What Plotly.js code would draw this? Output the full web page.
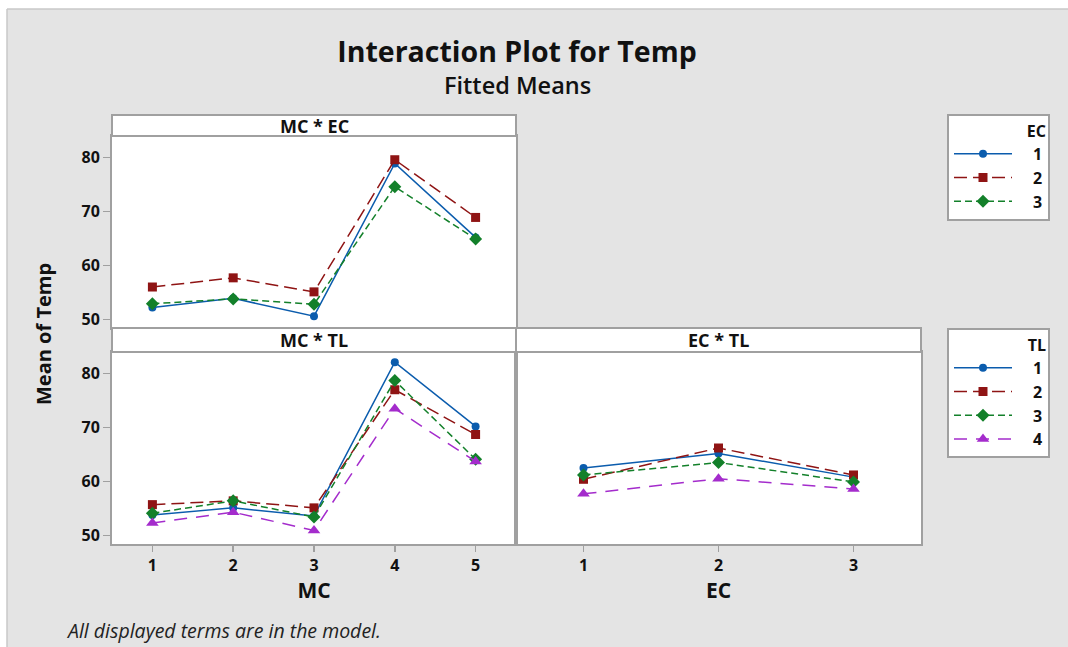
<!DOCTYPE html>
<html>
<head>
<meta charset="utf-8">
<script src="https://cdn.plot.ly/plotly-3.0.1.min.js"></script>
<style>html,body{margin:0;padding:0;background:#fff;}#chart{width:1068px;height:647px;}</style>
</head>
<body>
<div id="chart"></div>
<script>
// ---- data ----
const mcLevels = [1, 2, 3, 4, 5];
const ecLevels = [1, 2, 3];
const ecNames = ['1', '2', '3'];
const tlNames = ['1', '2', '3', '4'];

// MC * EC fitted means (rows: EC 1..3, columns: MC 1..5)
const mcEc_EC1 = [52.2, 53.9, 50.6, 78.9, 65.2];
const mcEc_EC2 = [56.0, 57.7, 55.1, 79.6, 68.9];
const mcEc_EC3 = [52.9, 53.8, 52.8, 74.6, 64.9];

// MC * TL fitted means (rows: TL 1..4, columns: MC 1..5)
const mcTl_TL1 = [53.8, 55.1, 53.6, 82.1, 70.2];
const mcTl_TL2 = [55.7, 56.4, 55.1, 77.0, 68.7];
const mcTl_TL3 = [54.1, 56.4, 53.4, 78.7, 64.1];
const mcTl_TL4 = [52.3, 54.3, 50.9, 73.5, 63.7];

// EC * TL fitted means (rows: TL 1..4, columns: EC 1..3)
const ecTl_TL1 = [62.5, 65.2, 60.8];
const ecTl_TL2 = [60.4, 66.2, 61.2];
const ecTl_TL3 = [61.2, 63.5, 59.9];
const ecTl_TL4 = [57.7, 60.5, 58.6];

const yTicks = [50, 60, 70, 80];

// ---- styles ----
const W = 1068, H = 647;
const fx = p => p / W;
const fy = p => 1 - p / H;
const FONT = 'Open Sans, Noto Sans, sans-serif';
const GRID = '#a0a0a0';
const PAD = '\u2003';
const styles = [
  {color: '#0b5cad', dash: 'solid', symbol: 'circle', size: 8},
  {color: '#8f1414', dash: '13px,6px', symbol: 'square', size: 9},
  {color: '#13802a', dash: '7px,4px', symbol: 'diamond', size: 10},
  {color: '#a42ccc', dash: '13px,9px', symbol: 'triangle-up', size: 11}
];

function tr(x, y, name, i, xa, ya, legend, showlegend) {
  const s = styles[i];
  return {
    type: 'scatter', mode: 'lines+markers', x: x, y: y, name: PAD + name,
    xaxis: xa, yaxis: ya, legend: legend, showlegend: showlegend,
    legendgroup: legend + name,
    line: {color: s.color, width: 1.5, dash: s.dash},
    marker: {color: s.color, symbol: s.symbol, size: s.size}
  };
}

const mcEc = [mcEc_EC1, mcEc_EC2, mcEc_EC3];
const mcTl = [mcTl_TL1, mcTl_TL2, mcTl_TL3, mcTl_TL4];
const ecTl = [ecTl_TL1, ecTl_TL2, ecTl_TL3, ecTl_TL4];

const data = [];
mcEc.forEach((v, i) => data.push(tr(mcLevels, v, ecNames[i], i, 'x', 'y', 'legend', true)));
mcTl.forEach((v, i) => data.push(tr(mcLevels, v, tlNames[i], i, 'x2', 'y2', 'legend2', true)));
ecTl.forEach((v, i) => data.push(tr(ecLevels, v, tlNames[i], i, 'x3', 'y3', 'legend2', false)));

const tickFont = {family: FONT, size: 16, color: '#111', weight: 'bold'};
const baseAxis = {
  showline: true, mirror: true, linecolor: GRID, linewidth: 2,
  showgrid: false, zeroline: false, fixedrange: true
};
const yRange = [48.4, 84.0];

function legendCfg(title, top) {
  return {
    x: fx(947), y: fy(top), xanchor: 'left', yanchor: 'top',
    bgcolor: '#ffffff', bordercolor: GRID, borderwidth: 2,
    font: {family: FONT, size: 16, color: '#111', weight: 'bold'},
    title: {text: title, side: 'top right', font: {family: FONT, size: 16, color: '#111', weight: 'bold'}},
    itemwidth: 58, tracegroupgap: 0, traceorder: 'grouped', itemclick: false, itemdoubleclick: false
  };
}

const layout = {
  width: W, height: H,
  margin: {l: 0, r: 0, t: 0, b: 0},
  paper_bgcolor: '#e4e4e4',
  plot_bgcolor: '#ffffff',
  font: {family: FONT, color: '#111'},
  title: {
    text: 'Interaction Plot for Temp',
    x: fx(517), xanchor: 'center', xref: 'paper',
    y: fy(52), yanchor: 'middle', yref: 'paper',
    font: {family: FONT, size: 28.5, color: '#111', weight: 'bold'}
  },
  xaxis: Object.assign({}, baseAxis, {domain: [fx(112), fx(516)], anchor: 'y', range: [0.5, 5.5],
    tickvals: mcLevels, showticklabels: false, ticks: ''}),
  yaxis: Object.assign({}, baseAxis, {domain: [fy(328), fy(136)], anchor: 'x', range: yRange,
    tickvals: yTicks, ticks: 'outside', ticklen: 7, tickcolor: GRID, tickwidth: 1.5, tickfont: tickFont}),
  xaxis2: Object.assign({}, baseAxis, {domain: [fx(112), fx(516)], anchor: 'y2', range: [0.5, 5.5],
    tickvals: mcLevels, ticks: 'outside', ticklen: 6, tickcolor: GRID, tickwidth: 1.5, tickfont: tickFont,
    title: {text: 'MC', font: {family: FONT, size: 21, color: '#111', weight: 'bold'}, standoff: 6}}),
  yaxis2: Object.assign({}, baseAxis, {domain: [fy(544), fy(352)], anchor: 'x2', range: yRange,
    tickvals: yTicks, ticks: 'outside', ticklen: 7, tickcolor: GRID, tickwidth: 1.5, tickfont: tickFont}),
  xaxis3: Object.assign({}, baseAxis, {domain: [fx(516), fx(921)], anchor: 'y3', range: [0.5, 3.5],
    tickvals: ecLevels, ticks: 'outside', ticklen: 6, tickcolor: GRID, tickwidth: 1.5, tickfont: tickFont,
    title: {text: 'EC', font: {family: FONT, size: 21, color: '#111', weight: 'bold'}, standoff: 6}}),
  yaxis3: Object.assign({}, baseAxis, {domain: [fy(544), fy(352)], anchor: 'x3', range: yRange,
    tickvals: yTicks, showticklabels: false, ticks: ''}),
  legend: legendCfg('EC', 114),
  legend2: legendCfg('TL', 328),
  shapes: [
    // white outer border at top and left
    {type: 'rect', xref: 'paper', yref: 'paper', x0: 0, x1: 1, y0: fy(9), y1: 1, fillcolor: '#ffffff', line: {width: 0}},
    {type: 'rect', xref: 'paper', yref: 'paper', x0: 0, x1: fx(7), y0: 0, y1: 1, fillcolor: '#ffffff', line: {width: 0}},
    {type: 'line', xref: 'paper', yref: 'paper', x0: fx(7), x1: 1, y0: fy(9), y1: fy(9), line: {color: '#c8c8c8', width: 1.5}},
    {type: 'line', xref: 'paper', yref: 'paper', x0: fx(7), x1: fx(7), y0: 0, y1: fy(9), line: {color: '#c8c8c8', width: 1.5}},
    // panel strips
    {type: 'rect', xref: 'paper', yref: 'paper', x0: fx(112), x1: fx(516), y0: fy(136), y1: fy(115), fillcolor: '#ffffff', line: {color: GRID, width: 2}},
    {type: 'rect', xref: 'paper', yref: 'paper', x0: fx(112), x1: fx(516), y0: fy(352), y1: fy(328), fillcolor: '#ffffff', line: {color: GRID, width: 2}},
    {type: 'rect', xref: 'paper', yref: 'paper', x0: fx(516), x1: fx(921), y0: fy(352), y1: fy(328), fillcolor: '#ffffff', line: {color: GRID, width: 2}}
  ],
  annotations: [
    {text: 'Fitted Means', xref: 'paper', yref: 'paper', x: fx(517), y: fy(85), xanchor: 'center', yanchor: 'middle', showarrow: false,
      font: {family: FONT, size: 23.5, color: '#111', weight: 600}},
    {text: 'MC * EC', xref: 'paper', yref: 'paper', x: fx(314), y: fy(126), xanchor: 'center', yanchor: 'middle', showarrow: false,
      font: {family: FONT, size: 18, color: '#111', weight: 'bold'}},
    {text: 'MC * TL', xref: 'paper', yref: 'paper', x: fx(314), y: fy(340), xanchor: 'center', yanchor: 'middle', showarrow: false,
      font: {family: FONT, size: 18, color: '#111', weight: 'bold'}},
    {text: 'EC * TL', xref: 'paper', yref: 'paper', x: fx(718), y: fy(340), xanchor: 'center', yanchor: 'middle', showarrow: false,
      font: {family: FONT, size: 18, color: '#111', weight: 'bold'}},
    {text: 'Mean of Temp', xref: 'paper', yref: 'paper', x: fx(43), y: fy(334), xanchor: 'center', yanchor: 'middle', showarrow: false,
      textangle: -90, font: {family: FONT, size: 20, color: '#111', weight: 'bold'}},
    {text: 'All displayed terms are in the model.', xref: 'paper', yref: 'paper', x: fx(64), y: fy(630), xanchor: 'left', yanchor: 'middle', showarrow: false,
      font: {family: FONT, size: 19.5, color: '#222', style: 'italic'}}
  ]
};

Plotly.newPlot('chart', data, layout, {displayModeBar: false, staticPlot: true});
</script>
</body>
</html>
